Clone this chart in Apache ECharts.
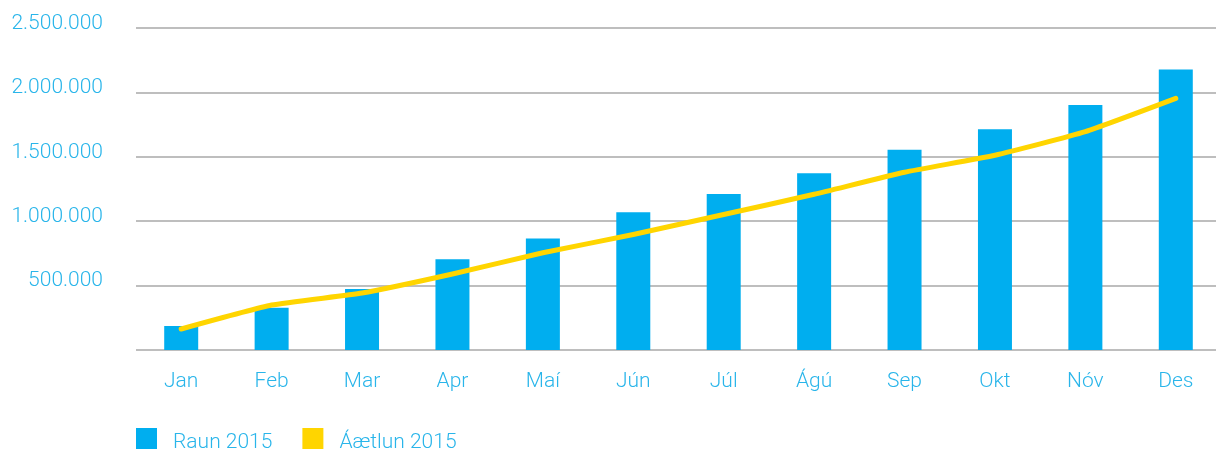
<!DOCTYPE html>
<html>
<head>
<meta charset="utf-8">
<script src="https://cdn.jsdelivr.net/npm/echarts@6/dist/echarts.min.js"></script>
<style>
  html, body { margin: 0; padding: 0; background: #fff; }
  #chart { width: 1216px; height: 452px; }
</style>
</head>
<body>
<div id="chart"></div>
<script>
// mánuðir
const months = ["Jan", "Feb", "Mar", "Apr", "Maí", "Jún", "Júl", "Ágú", "Sep", "Okt", "Nóv", "Des"];
// Raun 2015 (súlur)
const raun = [186000, 328000, 473000, 704000, 866000, 1070000, 1212000, 1372000, 1555000, 1713000, 1902000, 2178000];
// Áætlun 2015 (lína)
const aaetlun = [163000, 349000, 442000, 590000, 755000, 897000, 1052000, 1209000, 1380000, 1512000, 1695000, 1953000];
const yTicks = [0, 500000, 1000000, 1500000, 2000000, 2500000];

const blue = "#00aeef";
const yellow = "#ffd500";
const labelColor = "#29b5ea";
const font = "Roboto";

// 2500000 -> "2.500.000", núll sýnt autt
function fmt(v) {
  if (v === 0) return "";
  return "{v|" + String(v).replace(/\B(?=(\d{3})+(?!\d))/g, ".") + "}";
}

const chart = echarts.init(document.getElementById("chart"));
chart.setOption({
  animation: false,
  grid: {
    left: 136,
    right: -5,
    top: 28,
    bottom: 102,
    outerBoundsMode: "none",
    containLabel: false,
  },
  legend: {
    left: 136,
    top: 428,
    padding: 0,
    itemWidth: 21,
    itemHeight: 21,
    itemGap: 30,
    icon: "rect",
    formatter: "{t|{name}}",
    textStyle: {
      color: labelColor,
      fontSize: 21,
      fontFamily: font,
      fontWeight: 300,
      rich: {
        t: {
          color: labelColor,
          fontSize: 21,
          fontFamily: font,
          fontWeight: 300,
          padding: [8, 0, 0, 11],
        },
      },
    },
    data: ["Raun 2015", "Áætlun 2015"],
  },
  xAxis: {
    type: "category",
    data: months,
    axisLine: { show: false },
    axisTick: { show: false },
    axisLabel: {
      color: labelColor,
      fontSize: 21,
      fontFamily: font,
      fontWeight: 300,
      margin: 21,
    },
  },
  yAxis: {
    type: "value",
    min: yTicks[0],
    max: yTicks[yTicks.length - 1],
    interval: yTicks[1] - yTicks[0],
    axisLine: { show: false },
    axisTick: { show: false },
    splitLine: { lineStyle: { color: "#a8a8a8", width: 1.5 } },
    axisLabel: {
      formatter: fmt,
      color: labelColor,
      fontSize: 21,
      fontFamily: font,
      fontWeight: 300,
      margin: 33,
      verticalAlign: "middle",
      rich: {
        v: {
          color: labelColor,
          fontSize: 21,
          fontFamily: font,
          fontWeight: 300,
          padding: [0, 0, 9, 0],
        },
      },
    },
  },
  series: [
    {
      name: "Raun 2015",
      type: "bar",
      data: raun,
      barWidth: 34,
      itemStyle: { color: blue },
    },
    {
      name: "Áætlun 2015",
      type: "line",
      data: aaetlun,
      smooth: 0.15,
      symbol: "none",
      itemStyle: { color: yellow },
      lineStyle: { color: yellow, width: 5, cap: "round", join: "round" },
    },
  ],
});
</script>
</body>
</html>
